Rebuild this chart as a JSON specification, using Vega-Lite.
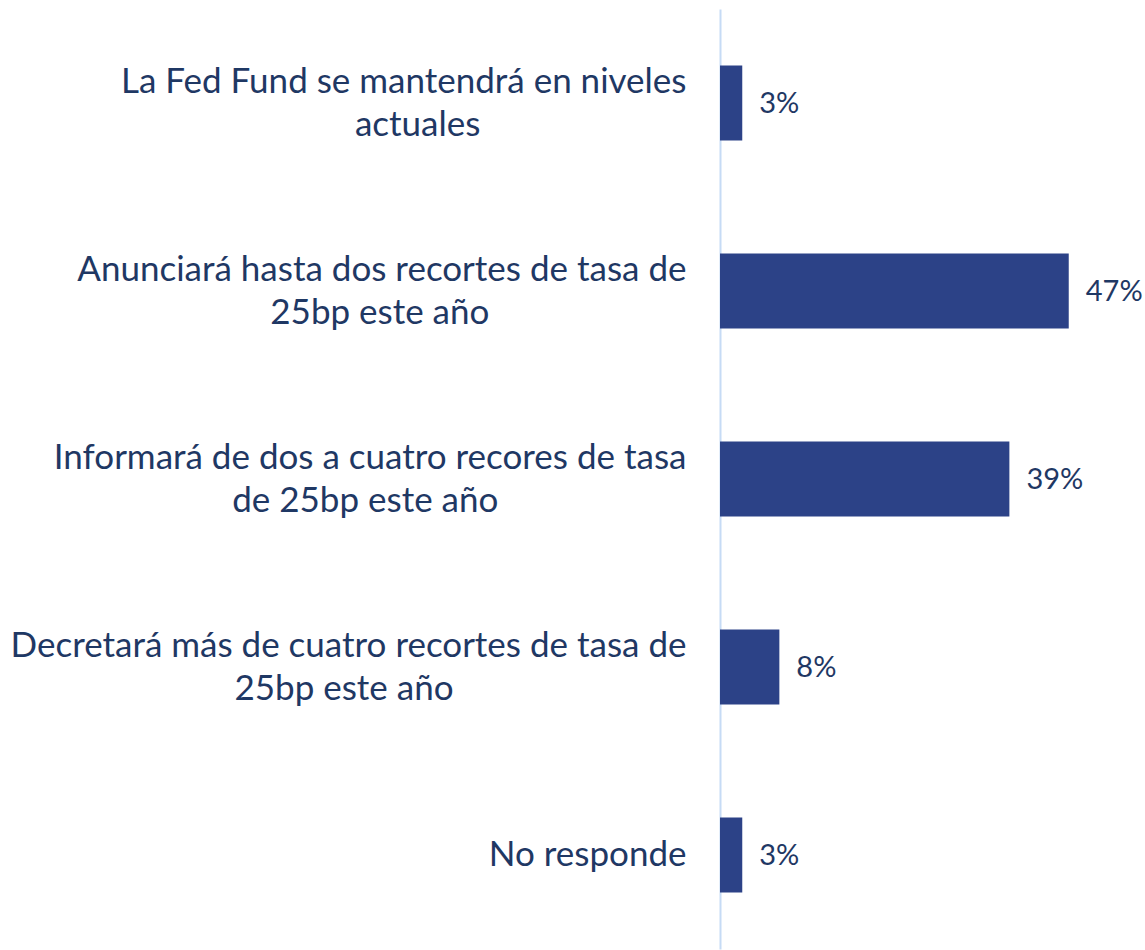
{
  "$schema": "https://vega.github.io/schema/vega-lite/v6.json",
  "width": 371,
  "height": 940,
  "autosize": {"type": "none"},
  "padding": {"left": 720, "top": 9, "right": 54, "bottom": 1},
  "background": "white",
  "config": {"view": {"stroke": null}},
  "data": {
    "values": [
      {"categoria": "La Fed Fund se mantendrá en niveles|actuales", "valor": 3, "etiqueta": "3%"},
      {"categoria": "Anunciará hasta dos recortes de tasa de|25bp este año", "valor": 47, "etiqueta": "47%"},
      {"categoria": "Informará de dos a cuatro recores de tasa|de 25bp este año", "valor": 39, "etiqueta": "39%"},
      {"categoria": "Decretará más de cuatro recortes de tasa de|25bp este año", "valor": 8, "etiqueta": "8%"},
      {"categoria": "No responde", "valor": 3, "etiqueta": "3%"}
    ]
  },
  "encoding": {
    "y": {
      "field": "categoria",
      "type": "nominal",
      "sort": null,
      "scale": {"paddingInner": 0.6, "paddingOuter": 0.3},
      "axis": {
        "title": null,
        "ticks": false,
        "domainColor": "#c6dbf5",
        "domainWidth": 2,
        "labelExpr": "indexof(datum.value, '|') >= 0 ? [split(datum.value, '|')[0], split(datum.value, '|')[1] + pad('', round((length(split(datum.value, '|')[0]) - length(split(datum.value, '|')[1])) * 0.85), '\u00a0') + '\u2060'] : datum.value",
        "labelFont": "Lato",
        "labelFontSize": 35,
        "labelColor": "#1f3864",
        "labelLineHeight": 43,
        "labelPadding": 34,
        "labelLimit": 900,
        "labelAlign": "right",
        "labelOffset": {"condition": {"test": "indexof(datum.value, '|') >= 0", "value": -21}, "value": 0}
      }
    },
    "x": {
      "field": "valor",
      "type": "quantitative",
      "scale": {"domain": [0, 50]},
      "axis": null
    }
  },
  "layer": [
    {"mark": {"type": "bar", "color": "#2c4287"}},
    {
      "mark": {"type": "text", "align": "left", "dx": 17, "dy": 1, "font": "Lato", "fontSize": 29, "color": "#1f3864"},
      "encoding": {"text": {"field": "etiqueta"}}
    }
  ]
}
